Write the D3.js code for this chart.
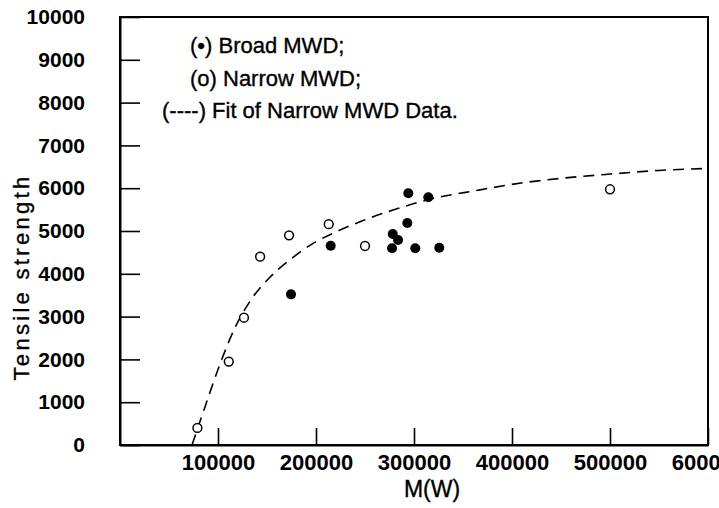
<!DOCTYPE html>
<html>
<head>
<meta charset="utf-8">
<script src="https://cdn.jsdelivr.net/npm/d3@7/dist/d3.min.js"></script>
<style>
  html, body { margin: 0; padding: 0; background: #fff; }
  svg { display: block; }
  text { font-family: "Liberation Sans", Arial, Helvetica, sans-serif; fill: #000; }
</style>
</head>
<body>
<svg id="chart" width="719" height="508"></svg>
<script>
// ---- data ----
const narrowMW = [79000, 111000, 126500, 143000, 172500, 213000, 250000, 500000];
const narrowTS = [400, 1950, 2975, 4400, 4900, 5160, 4650, 5975];

const broadMW = [174500, 215000, 277600, 278300, 283700, 293200, 294200, 301300, 314600, 325800];
const broadTS = [3520, 4655, 4596, 4930, 4790, 5187, 5880, 4596, 5787, 4610];

const fitMW = [73500, 86700, 102000, 117300, 132700, 153000, 173500, 197000, 221400,
               248000, 278600, 313300, 367300, 400000, 450000, 500000, 550000, 598000];
const fitTS = [0, 890, 1890, 2740, 3360, 3920, 4330, 4710, 4990,
               5245, 5490, 5725, 5960, 6090, 6230, 6330, 6415, 6460];

const xTicks = [100000, 200000, 300000, 400000, 500000, 600000];
const yTicks = [0, 1000, 2000, 3000, 4000, 5000, 6000, 7000, 8000, 9000, 10000];

const legendLines = ["(\u2022) Broad MWD;", "(o) Narrow MWD;", "(----) Fit of Narrow MWD Data."];
const xTitle = "M(W)";
const yTitle = "Tensile strength";

// ---- layout ----
const svg = d3.select("#chart");
const L = 120, R = 708, T = 17, B = 445;

const x = d3.scaleLinear().domain([0, 600000]).range([L, R]);
const y = d3.scaleLinear().domain([0, 10000]).range([B, T]);

// frame
svg.append("rect")
  .attr("x", L).attr("y", T).attr("width", R - L).attr("height", B - T)
  .attr("fill", "none").attr("stroke", "#000").attr("stroke-width", 2);

// x axis (inward ticks)
const xAxis = d3.axisBottom(x).tickValues(xTicks).tickSizeInner(-17).tickSizeOuter(0)
  .tickPadding(9).tickFormat(d3.format("d"));
const gx = svg.append("g").attr("transform", `translate(0,${B})`).call(xAxis);
gx.select(".domain").attr("stroke-width", 2);
gx.selectAll(".tick line").attr("stroke-width", 1.6);
gx.selectAll(".tick text").attr("font-size", 22).attr("font-weight", "bold")
  .style("font-family", "'Liberation Sans', Arial, sans-serif");

// y axis (inward ticks)
const yAxis = d3.axisLeft(y).tickValues(yTicks).tickSizeInner(-20).tickSizeOuter(0)
  .tickPadding(35).tickFormat(d3.format("d"));
const gy = svg.append("g").attr("transform", `translate(${L},0)`).call(yAxis);
gy.select(".domain").attr("stroke-width", 2);
gy.selectAll(".tick line").attr("stroke-width", 1.6);
gy.selectAll(".tick text").attr("font-size", 21).attr("font-weight", "bold")
  .style("font-family", "'Liberation Sans', Arial, sans-serif");

// clip for the fit line
svg.append("clipPath").attr("id", "plotclip").append("rect")
  .attr("x", L).attr("y", T).attr("width", R - L).attr("height", B - T);

// fit curve
const fit = fitMW.map((m, i) => [m, fitTS[i]]);
const line = d3.line().x(d => x(d[0])).y(d => y(d[1])).curve(d3.curveMonotoneX);
svg.append("path")
  .datum(fit)
  .attr("clip-path", "url(#plotclip)")
  .attr("d", line)
  .attr("fill", "none").attr("stroke", "#000").attr("stroke-width", 1.6)
  .attr("stroke-dasharray", "11,7");

// narrow MWD: open circles
const narrow = narrowMW.map((m, i) => [m, narrowTS[i]]);
svg.append("g").selectAll("circle").data(narrow).join("circle")
  .attr("cx", d => x(d[0])).attr("cy", d => y(d[1])).attr("r", 4.4)
  .attr("fill", "#fff").attr("stroke", "#000").attr("stroke-width", 1.5);

// broad MWD: filled circles
const broad = broadMW.map((m, i) => [m, broadTS[i]]);
svg.append("g").selectAll("circle").data(broad).join("circle")
  .attr("cx", d => x(d[0])).attr("cy", d => y(d[1])).attr("r", 5)
  .attr("fill", "#000");

// legend (text only)
const legendX = [190, 190, 162];
const legendY = [53, 86, 118];
svg.append("g").selectAll("text").data(legendLines).join("text")
  .attr("x", (d, i) => legendX[i]).attr("y", (d, i) => legendY[i])
  .attr("font-size", 22)
  .attr("stroke", "#000").attr("stroke-width", 0.35)
  .text(d => d);

// axis titles
svg.append("text").attr("x", 432).attr("y", 497).attr("text-anchor", "middle")
  .attr("font-size", 23).attr("stroke", "#000").attr("stroke-width", 0.35).text(xTitle);
svg.append("text")
  .attr("transform", `translate(29,277) rotate(-90)`)
  .attr("text-anchor", "middle").attr("font-size", 22)
  .attr("letter-spacing", 3.3)
  .attr("stroke", "#000").attr("stroke-width", 0.35).text(yTitle);
</script>
</body>
</html>
